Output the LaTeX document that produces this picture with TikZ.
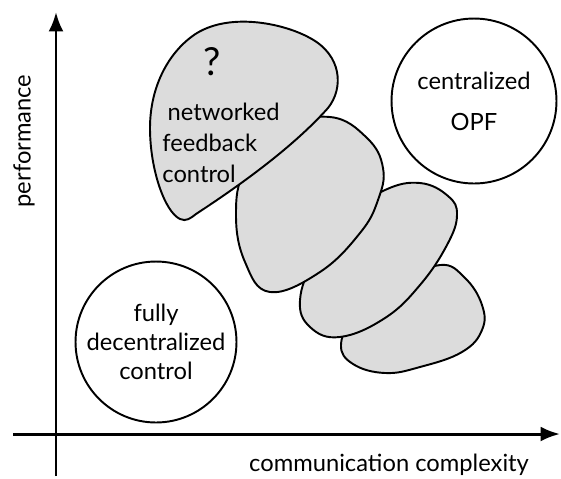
\documentclass[tikz,border=0pt]{standalone}
\usepackage{fontspec}
\setmainfont{Lato}
\usetikzlibrary{arrows.meta}
\definecolor{blobgray}{HTML}{DCDCDC}

\begin{document}
\begin{tikzpicture}[x=0.02cm, y=-0.02cm,
    font=\fontsize{13.5}{16.5}\selectfont,
    blob/.style={draw, line width=1.1pt, fill=blobgray},
    zone/.style={circle, draw, line width=1.1pt, inner sep=0pt},
    axis/.style={line width=1.7pt, -{Latex[length=11pt,width=8.5pt]}}]
    \useasboundingbox (0,0) rectangle (561,478);
    % axes
    \coordinate (xs) at (13,434);
    \coordinate (xe) at (560,434);
    \coordinate (ys) at (56,476);
    \coordinate (ye) at (56,12);
    \draw[axis] (xs) -- (xe);
    \draw[axis] (ys) -- (ye);
    \node[rotate=90] (perf) at (24,141) {performance};
    \node[anchor=base] (comm) at (389,471) {communication complexity};
    % the two ends
    \node[zone, minimum size=3.22cm] (dec) at (156,342) {};
    \node[align=center, font=\fontsize{13.5}{16.4}\selectfont] (declbl) at (dec) {fully\\decentralized\\control};
    \node[zone, minimum size=3.3cm] (opf) at (474,101) {};
    \node[align=center] (opflbl) at (opf) {centralized\\[7pt]OPF};
    % networked regions, back to front
    \draw[blob] plot[smooth cycle, tension=0.7] coordinates {(440,265) (465,278) (482,305)
        (482,330) (462,352) (420,367) (385,373) (353,364) (341,345) (355,320) (400,285)};
    \draw[blob] plot[smooth cycle, tension=0.7] coordinates {(420,183) (448,196) (457,215)
        (447,245) (420,285) (385,318) (340,337) (310,327) (300,300) (315,260) (350,215) (385,190)};
    \draw[blob] plot[smooth cycle, tension=0.7] coordinates {(330,117) (367,138) (383,168)
        (378,200) (360,233) (320,272) (270,292) (245,262) (236,215) (245,170) (280,130)};
    \draw[blob] (196,214) .. controls (245,182) and (295,145) .. (328,108)
        .. controls (344,88) and (342,55) .. (310,38)
        .. controls (285,24) and (232,12) .. (197,33)
        .. controls (170,50) and (150,85) .. (150,128)
        .. controls (150,170) and (165,212) .. (180,219)
        .. controls (186,222) and (191,218) .. cycle;
    \node[font=\fontsize{22}{22}\selectfont] (q) at (212,62) {?};
    \node[align=left, font=\fontsize{13.5}{17.6}\selectfont] (nfc) at (221,143) {\kern3pt networked\\feedback\\control};
\end{tikzpicture}
\end{document}
